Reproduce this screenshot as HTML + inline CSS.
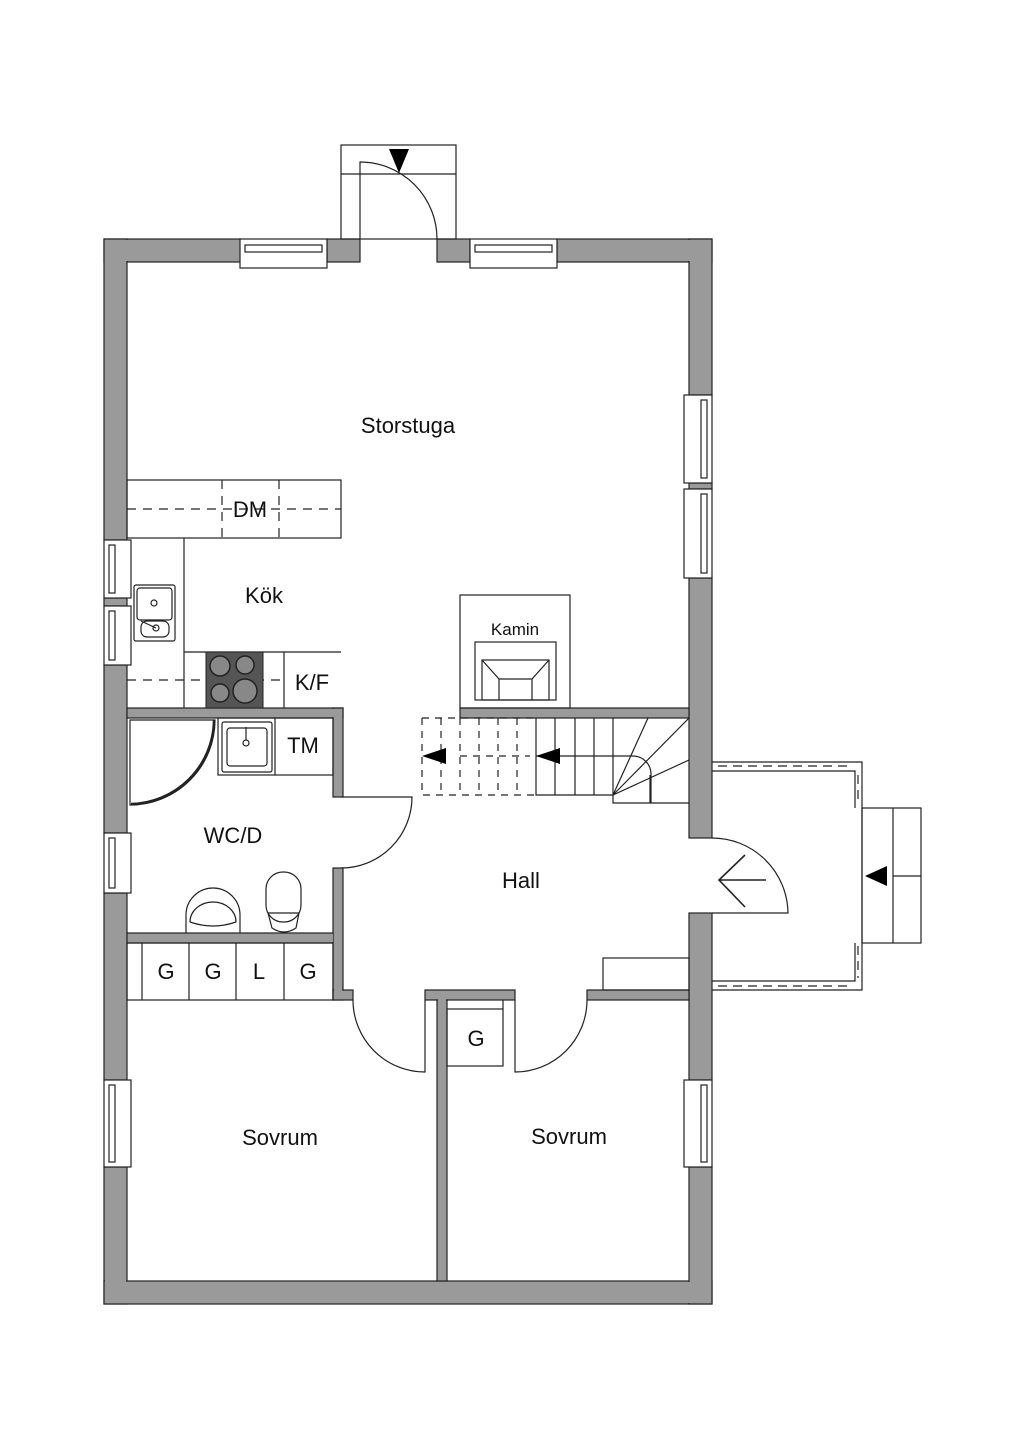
<!DOCTYPE html>
<html><head><meta charset="utf-8"><style>
html,body{margin:0;padding:0;background:#fff}
svg{display:block}
text{font-family:"Liberation Sans",sans-serif;fill:#111}
</style></head><body>
<svg width="1024" height="1448" viewBox="0 0 1024 1448" xmlns="http://www.w3.org/2000/svg">
<g fill="#9a9a9a" stroke="#222" stroke-width="1.2">
<rect x="104" y="239" width="137" height="23"/>
<rect x="327" y="239" width="33" height="23"/>
<rect x="437" y="239" width="33" height="23"/>
<rect x="557" y="239" width="155" height="23"/>
<rect x="104" y="239" width="23" height="301"/>
<rect x="104" y="598" width="23" height="8"/>
<rect x="104" y="665" width="23" height="168"/>
<rect x="104" y="893" width="23" height="187"/>
<rect x="104" y="1167" width="23" height="137"/>
<rect x="104" y="1281" width="608" height="23"/>
<rect x="689" y="239" width="23" height="156"/>
<rect x="689" y="483" width="23" height="6"/>
<rect x="689" y="578" width="23" height="260"/>
<rect x="689" y="913" width="23" height="167"/>
<rect x="689" y="1167" width="23" height="137"/>
<rect x="127" y="708" width="216" height="10"/>
<rect x="333" y="708" width="10" height="89"/>
<rect x="333" y="868" width="10" height="132"/>
<rect x="127" y="933" width="206" height="10"/>
<rect x="333" y="990" width="20" height="10"/>
<rect x="425" y="990" width="90" height="10"/>
<rect x="437" y="1000" width="10" height="281"/>
<rect x="587" y="990" width="102" height="10"/>
<rect x="460" y="708" width="229" height="10"/>
</g>
<g fill="#9a9a9a">
<rect x="105" y="1282" width="606" height="21"/>
<rect x="690" y="1168" width="21" height="135"/>
<rect x="105" y="1168" width="21" height="135"/>
<rect x="105" y="240" width="135" height="21"/>
<rect x="105" y="240" width="21" height="299"/>
<rect x="558" y="240" width="153" height="21"/>
<rect x="690" y="240" width="21" height="154"/>
<rect x="334" y="709" width="8" height="87"/>
<rect x="128" y="709" width="214" height="8"/>
<rect x="334" y="869" width="8" height="130"/>
<rect x="334" y="991" width="18" height="8"/>
<rect x="438" y="991" width="8" height="289"/>
<rect x="426" y="991" width="88" height="8"/>
<rect x="128" y="934" width="205" height="8"/>
<rect x="690" y="709" width="21" height="128"/>
<rect x="690" y="991" width="21" height="88"/>
</g>
<g fill="#fff" stroke="#222" stroke-width="1.2">
<rect x="240" y="239" width="87" height="29"/><rect x="245" y="245" width="77" height="7"/>
<rect x="470" y="239" width="87" height="29"/><rect x="475" y="245" width="77" height="7"/>
<rect x="684" y="395" width="28" height="88"/><rect x="701" y="400" width="6" height="78"/>
<rect x="684" y="489" width="28" height="89"/><rect x="701" y="494" width="6" height="79"/>
<rect x="684" y="1080" width="28" height="87"/><rect x="701" y="1085" width="6" height="77"/>
<rect x="104" y="540" width="27" height="58"/><rect x="109" y="545" width="6" height="48"/>
<rect x="104" y="606" width="27" height="59"/><rect x="109" y="611" width="6" height="49"/>
<rect x="104" y="833" width="27" height="60"/><rect x="109" y="838" width="6" height="50"/>
<rect x="104" y="1080" width="27" height="87"/><rect x="109" y="1085" width="6" height="77"/>
</g>
<g fill="none" stroke="#222" stroke-width="1.2">
<rect x="341" y="145" width="115" height="94"/>
<line x1="341" y1="174" x2="456" y2="174"/>
<path d="M360 239 V162 A77 77 0 0 1 437 239"/>
<rect x="127" y="480" width="214" height="58"/>
<path d="M127 509 H341 M222 480 V538 M279 480 V538" stroke-dasharray="9 7"/>
<path d="M184 538 V708 M184 652 H341 M284 652 V708"/>
<path d="M127 680 H284" stroke-dasharray="9 7"/>
<rect x="134" y="585" width="41" height="56" rx="2"/><rect x="137" y="588" width="35" height="32" rx="3"/><rect x="141" y="621" width="28" height="16" rx="6"/>
<circle cx="154" cy="603" r="3"/><circle cx="156" cy="628" r="3"/><line x1="141" y1="621" x2="156" y2="628"/>
<path d="M130 720 H215 V720 A85 85 0 0 1 130 805 Z"/>
<path d="M214 720 V722 A85 85 0 0 1 131 804" stroke-width="2.5"/>
<rect x="218" y="718" width="115" height="57"/><line x1="275" y1="718" x2="275" y2="775"/>
<rect x="222" y="722" width="50" height="50" rx="2"/><rect x="227" y="728" width="40" height="38" rx="3"/>
<circle cx="246" cy="743" r="3"/><line x1="246" y1="727" x2="246" y2="740"/>
<path d="M341 797 H412 A71 71 0 0 1 341 868"/>
<path d="M186 933 V915 A27 27 0 0 1 240 915 V933"/><path d="M190 922 A23 20 0 0 1 236 922 Q213 930 190 922"/>
<rect x="266" y="872" width="35" height="50" rx="17"/><path d="M268 913 H299 L296 928 Q284 936 272 928 Z"/>
<rect x="127" y="943" width="206" height="57"/>
<path d="M142 943 V1000 M189 943 V1000 M236 943 V1000 M284 943 V1000"/>
<path d="M353 1000 A72 72 0 0 0 425 1072 V1000"/>
<path d="M515 1000 V1072 A72 72 0 0 0 587 1000"/>
<rect x="447" y="1009" width="56" height="57"/><line x1="503" y1="1000" x2="503" y2="1009"/>
<rect x="603" y="958" width="86" height="32"/>
<rect x="460" y="595" width="110" height="113"/>
<rect x="475" y="642" width="81" height="58"/>
<rect x="482" y="660" width="67" height="40"/>
<path d="M482 660 L499 679 H532 L549 660 M499 679 V700 M532 679 V700"/>
<path d="M536 718 V795 H613 M555 718 V795 M575 718 V795 M594 718 V795 M613 718 V803 H689"/>
<path d="M613 795 L648 718 M613 795 L689 718 M613 795 L689 760 M650 803 V775"/>
<path d="M536 756 H633 A18 18 0 0 1 651 774 V803"/>
<path d="M422 718 H536 M422 718 V795 H536 M441 718 V795 M460 718 V795 M479 718 V795 M498 718 V795 M517 718 V795 M460 756 H530" stroke-dasharray="7 6"/>
<path d="M712 762 H862 V990 H712"/>
<path d="M712 771 H855 V808 M712 981 H855 V943"/>
<path d="M718 766 H852 M858 775 V805 M718 986 H852 M858 946 V978" stroke-dasharray="9 6"/>
<rect x="862" y="808" width="59" height="135"/>
<path d="M893 808 V943 M893 876 H921"/>
<path d="M712 838 A76 76 0 0 1 788 913 H712"/>
<path d="M745 855 L719 880 L745 907 M719 880 H766" stroke-width="1.6"/>
</g>
<rect x="206" y="652" width="57" height="56" fill="#555" stroke="#222"/>
<g fill="#888" stroke="#222" stroke-width="1.5">
<circle cx="220" cy="666" r="10"/><circle cx="245" cy="665" r="9"/><circle cx="220" cy="693" r="9"/><circle cx="245" cy="691" r="12"/>
</g>
<g fill="#000">
<path d="M389 149 H409 L399 173 Z"/>
<path d="M422 756 L446 748 V764 Z"/>
<path d="M536 756 L560 748 V764 Z"/>
<path d="M865 876 L887 866 V886 Z"/>
</g>
<g font-size="22" text-anchor="middle">
<text x="408" y="433">Storstuga</text>
<text x="250" y="517">DM</text>
<text x="264" y="603">Kök</text>
<text x="312" y="690">K/F</text>
<text x="303" y="753">TM</text>
<text x="233" y="843">WC/D</text>
<text x="521" y="888">Hall</text>
<text x="166" y="979">G</text><text x="213" y="979">G</text><text x="259" y="979">L</text><text x="308" y="979">G</text>
<text x="476" y="1046">G</text>
<text x="280" y="1145">Sovrum</text>
<text x="569" y="1144">Sovrum</text>
<text x="515" y="635" font-size="17">Kamin</text>
</g>
</svg>
</body></html>
